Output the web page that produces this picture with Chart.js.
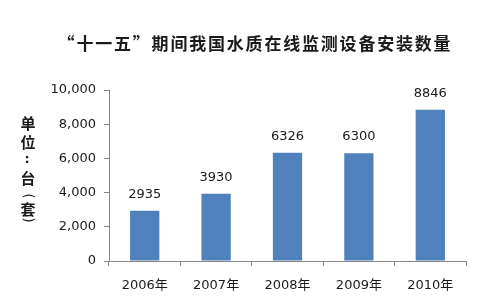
<!DOCTYPE html>
<html>
<head>
<meta charset="utf-8">
<script src="https://cdn.jsdelivr.net/npm/chart.js@4/dist/chart.umd.min.js"></script>
<style>
  html, body { margin: 0; padding: 0; background: #fff; }
  #wrap { width: 490px; height: 297px; }
</style>
</head>
<body>
<div id="wrap"><canvas id="c" width="490" height="297"></canvas></div>
<script>
// data
const years = ['2006年', '2007年', '2008年', '2009年', '2010年'];
const installs = [2935, 3930, 6326, 6300, 8846];
const yTicks = [0, 2000, 4000, 6000, 8000, 10000];
const titleText = '“十一五”期间我国水质在线监测设备安装数量';
const yTitleChars = ['单', '位', ':', '台', '(', '套', ')'];

const barBlue = '#4f81bd';
const axisGray = '#868686';
const textDark = '#1a1a1a';

// title + vertical unit label drawn straight on the canvas
const textPlugin = {
    id: 'texts',
    afterDraw(chart) {
        const ctx = chart.ctx;
        ctx.save();
        ctx.fillStyle = textDark;
        ctx.textAlign = 'center';
        ctx.textBaseline = 'middle';
        ctx.font = "600 17px 'Noto Sans CJK SC'";
        ctx.letterSpacing = '1.8px';
        ctx.fillText(titleText, 255, 44);
        ctx.letterSpacing = '0px';

        // stacked vertical label; brackets turned a quarter
        ctx.font = "bold 15px 'Noto Sans CJK SC'";
        const ys = [123, 142, 160, 178, 196, 209, 220];
        yTitleChars.forEach((ch, i) => {
            if (ch === '(' || ch === ')') {
                ctx.save();
                ctx.font = "14px 'DejaVu Sans'";
                ctx.translate(28, ys[i]);
                ctx.rotate(Math.PI / 2);
                ctx.fillText(ch, 0, 0);
                ctx.restore();
            } else if (ch === ':') {
                ctx.save();
                ctx.font = "bold 13px 'DejaVu Sans'";
                ctx.fillText(ch, 27, ys[i]);
                ctx.restore();
            } else {
                ctx.fillText(ch, 28, ys[i]);
            }
        });
        ctx.restore();
    }
};

// value labels above bars
const valuePlugin = {
    id: 'values',
    afterDatasetsDraw(chart) {
        const ctx = chart.ctx;
        const meta = chart.getDatasetMeta(0);
        ctx.save();
        ctx.fillStyle = textDark;
        ctx.font = "13px 'DejaVu Sans'";
        ctx.textAlign = 'center';
        ctx.textBaseline = 'bottom';
        meta.data.forEach((bar, i) => {
            ctx.fillText(String(installs[i]), bar.x, bar.y - 10);
        });
        ctx.restore();
    }
};

new Chart(document.getElementById('c'), {
    type: 'bar',
    data: {
        labels: years,
        datasets: [{
            data: installs,
            backgroundColor: barBlue,
            borderWidth: 0,
            barPercentage: 0.82,
            categoryPercentage: 0.5
        }]
    },
    options: {
        responsive: false,
        animation: false,
        layout: { padding: { top: 90, right: 24, left: 0, bottom: 0 } },
        plugins: {
            legend: { display: false },
            tooltip: { enabled: false },
            title: { display: false }
        },
        scales: {
            x: {
                grid: {
                    display: true,
                    drawOnChartArea: false,
                    drawTicks: true,
                    tickLength: 5,
                    color: axisGray,
                    offset: true
                },
                border: { color: axisGray },
                ticks: {
                    color: textDark,
                    font: { family: "'DejaVu Sans', 'Noto Sans CJK SC'", size: 13 },
                    padding: 12,
                    maxRotation: 0
                },
                afterFit(scale) { scale.height = 36; }
            },
            y: {
                min: 0,
                max: 10000,
                afterBuildTicks(scale) { scale.ticks = yTicks.map(v => ({ value: v })); },
                grid: {
                    display: true,
                    drawOnChartArea: false,
                    drawTicks: true,
                    tickLength: 5,
                    color: axisGray
                },
                border: { color: axisGray },
                ticks: {
                    color: textDark,
                    font: { family: "'DejaVu Sans'", size: 13 },
                    padding: 8,
                    callback: v => v.toLocaleString('en-US')
                },
                afterFit(scale) { scale.width = 109; }
            }
        }
    },
    plugins: [textPlugin, valuePlugin]
});
</script>
</body>
</html>
